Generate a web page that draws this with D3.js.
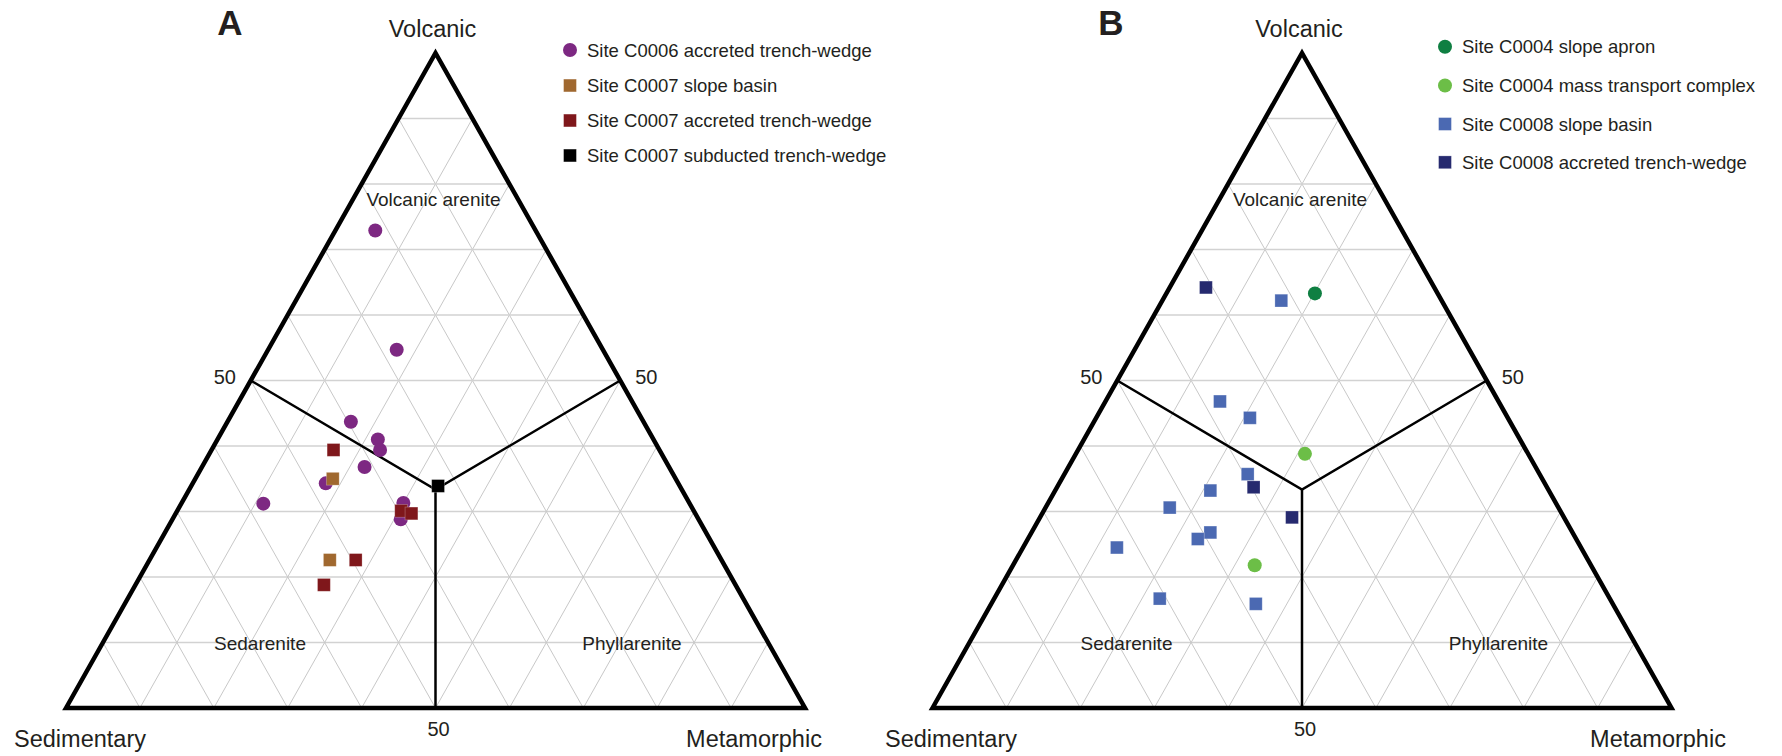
<!DOCTYPE html>
<html>
<head>
<meta charset="utf-8">
<script src="https://d3js.org/d3.v7.min.js"></script>
<style>
  body { margin: 0; background: #fff; }
  text { font-family: "Liberation Sans", Arial, Helvetica, sans-serif; fill: #231f20; }
  .grid { fill: none; stroke: #c8c8c8; stroke-width: 1; }
  .grid.h { stroke: #d2d2d2; stroke-width: 1.6; }
  .frame { fill: none; stroke: #000; stroke-width: 4.5; stroke-linejoin: miter; }
  .bound { fill: none; stroke: #000; stroke-width: 2.5; }
</style>
</head>
<body>
<script>
// corner + field labels
var vertexNames = ["Volcanic", "Sedimentary", "Metamorphic"];
var regionNames = ["Volcanic arenite", "Sedarenite", "Phyllarenite"];
var gridSteps = [10, 20, 30, 40, 50, 60, 70, 80, 90];
var tickLabel = "50";

// points are [sedimentary, volcanic, metamorphic] in %
// panel A
var seriesA = ["Site C0006 accreted trench-wedge", "Site C0007 slope basin",
               "Site C0007 accreted trench-wedge", "Site C0007 subducted trench-wedge"];
var shapesA = ["circle", "square", "square", "square"];
var colorsA = ["#7d2882", "#a0682f", "#7f171b", "#000000"];
var c0006Accreted = [[21.7, 72.9, 5.4], [27.9, 54.7, 17.4], [39.6, 43.7, 16.7], [37.3, 41.0, 21.7],
                     [37.8, 39.4, 22.8], [41.2, 36.8, 22.0], [47.7, 34.3, 18.0], [57.7, 31.2, 11.1],
                     [38.7, 31.3, 30.0], [40.3, 28.8, 30.9]];
var c0007Slope = [[46.4, 35.0, 18.6], [53.0, 22.6, 24.4]];
var c0007Accreted = [[44.1, 39.4, 16.5], [39.6, 30.1, 30.3], [38.4, 29.7, 31.9],
                     [49.5, 22.6, 27.9], [55.7, 18.8, 25.5]];
var c0007Subducted = [[32.7, 33.9, 33.4]];

// panel B
var seriesB = ["Site C0004 slope apron", "Site C0004 mass transport complex",
               "Site C0008 slope basin", "Site C0008 accreted trench-wedge"];
var shapesB = ["circle", "circle", "square", "square"];
var colorsB = ["#0f7f42", "#6cbe47", "#4b69b2", "#262a6f"];
var c0004Apron = [[16.6, 63.3, 20.1]];
var c0004Mtc = [[30.2, 38.8, 31.0], [45.5, 21.8, 32.7]];
var c0008Slope = [[21.7, 62.2, 16.1], [37.7, 46.8, 15.5], [34.9, 44.3, 20.8], [39.5, 35.7, 24.8],
                  [45.8, 33.2, 21.0], [52.6, 30.6, 16.8], [49.0, 26.8, 24.2], [51.2, 25.8, 23.0],
                  [62.8, 24.5, 12.7], [60.9, 16.7, 22.4], [48.3, 15.9, 35.8]];
var c0008Accreted = [[30.9, 64.2, 4.9], [39.7, 33.7, 26.6], [36.8, 29.1, 34.1]];

var W = 739, H = 655, BOTTOM = 708;

var panels = [
  { letter: "A", letterX: 230, left: 66, sedX: 80, metX: 754, names: seriesA, shapes: shapesA, colors: colorsA,
    data: [c0006Accreted, c0007Slope, c0007Accreted, c0007Subducted],
    legX: 570, legY: [50, 85.5, 120.5, 155.5] },
  { letter: "B", letterX: 1111, left: 932.5, sedX: 951, metX: 1658, names: seriesB, shapes: shapesB, colors: colorsB,
    data: [c0004Apron, c0004Mtc, c0008Slope, c0008Accreted],
    legX: 1445, legY: [46.7, 85.5, 124, 162.3] }
];

var svg = d3.select("body").append("svg").attr("width", 1782).attr("height", 756);

function marker(sel, shape, color, cx, cy, size) {
  if (shape === "circle") {
    sel.append("circle").attr("cx", cx).attr("cy", cy).attr("r", size / 2 + 0.6).attr("fill", color);
  } else {
    sel.append("rect").attr("x", cx - size / 2).attr("y", cy - size / 2)
      .attr("width", size).attr("height", size).attr("fill", color)
      .attr("stroke", "#fff").attr("stroke-opacity", 0.3).attr("stroke-width", 0.8);
  }
}

panels.forEach(function (p) {
  var g = svg.append("g");
  var x = d3.scaleLinear().domain([0, 100]).range([p.left, p.left + W]);
  var y = d3.scaleLinear().domain([0, 100]).range([BOTTOM, BOTTOM - H]);
  function pos(t) { return [x(t[2] + t[1] / 2), y(t[1])]; }
  var line = d3.line().x(function (t) { return pos(t)[0]; }).y(function (t) { return pos(t)[1]; });
  var apexX = pos([0, 100, 0])[0];

  // grid
  gridSteps.forEach(function (k) {
    g.append("path").attr("class", "grid h").attr("d", line([[100 - k, k, 0], [0, k, 100 - k]]));
    g.append("path").attr("class", "grid").attr("d", line([[100 - k, 0, k], [0, 100 - k, k]]));
    g.append("path").attr("class", "grid").attr("d", line([[k, 0, 100 - k], [k, 100 - k, 0]]));
  });

  // field boundaries
  var c = [100 / 3, 100 / 3, 100 / 3];
  g.append("path").attr("class", "bound").attr("d", line([[50, 50, 0], c, [0, 50, 50]]));
  g.append("path").attr("class", "bound").attr("d", line([c, [50, 0, 50]]));

  g.append("path").attr("class", "frame").attr("d", line([[100, 0, 0], [0, 100, 0], [0, 0, 100]]) + "Z");

  // labels
  g.append("text").attr("x", p.letterX).attr("y", 35).attr("text-anchor", "middle")
    .style("font-size", "35px").style("font-weight", "bold").text(p.letter);
  g.append("text").attr("x", apexX - 3).attr("y", 36.5).attr("text-anchor", "middle")
    .style("font-size", "23.5px").text(vertexNames[0]);
  g.append("text").attr("x", p.sedX).attr("y", 746.5).attr("text-anchor", "middle")
    .style("font-size", "23.5px").text(vertexNames[1]);
  g.append("text").attr("x", p.metX).attr("y", 746.5).attr("text-anchor", "middle")
    .style("font-size", "23.5px").text(vertexNames[2]);

  var l50 = pos([50, 50, 0]), r50 = pos([0, 50, 50]), b50 = pos([50, 0, 50]);
  g.append("text").attr("x", l50[0] - 26).attr("y", l50[1] + 3).attr("text-anchor", "middle")
    .style("font-size", "20px").text(tickLabel);
  g.append("text").attr("x", r50[0] + 26).attr("y", r50[1] + 3).attr("text-anchor", "middle")
    .style("font-size", "20px").text(tickLabel);
  g.append("text").attr("x", b50[0] + 3).attr("y", 736).attr("text-anchor", "middle")
    .style("font-size", "20px").text(tickLabel);

  g.append("text").attr("x", apexX - 2).attr("y", 206).attr("text-anchor", "middle")
    .style("font-size", "19px").text(regionNames[0]);
  g.append("text").attr("x", apexX - 175.5).attr("y", 649.5).attr("text-anchor", "middle")
    .style("font-size", "19px").text(regionNames[1]);
  g.append("text").attr("x", apexX + 196.5).attr("y", 649.5).attr("text-anchor", "middle")
    .style("font-size", "19px").text(regionNames[2]);

  // points (circles first, squares on top)
  var order = d3.range(p.names.length).sort(function (a, b) {
    return (p.shapes[a] === "circle" ? 0 : 1) - (p.shapes[b] === "circle" ? 0 : 1) || a - b;
  });
  order.forEach(function (i) {
    p.data[i].forEach(function (t) {
      var xy = pos(t);
      marker(g, p.shapes[i], p.colors[i], xy[0], xy[1], 12.8);
    });
  });

  // legend
  p.names.forEach(function (n, i) {
    marker(g, p.shapes[i], p.colors[i], p.legX, p.legY[i], 12.8);
    g.append("text").attr("x", p.legX + 17).attr("y", p.legY[i] + 6.6)
      .style("font-size", "18.5px").text(n);
  });
});
</script>
</body>
</html>
